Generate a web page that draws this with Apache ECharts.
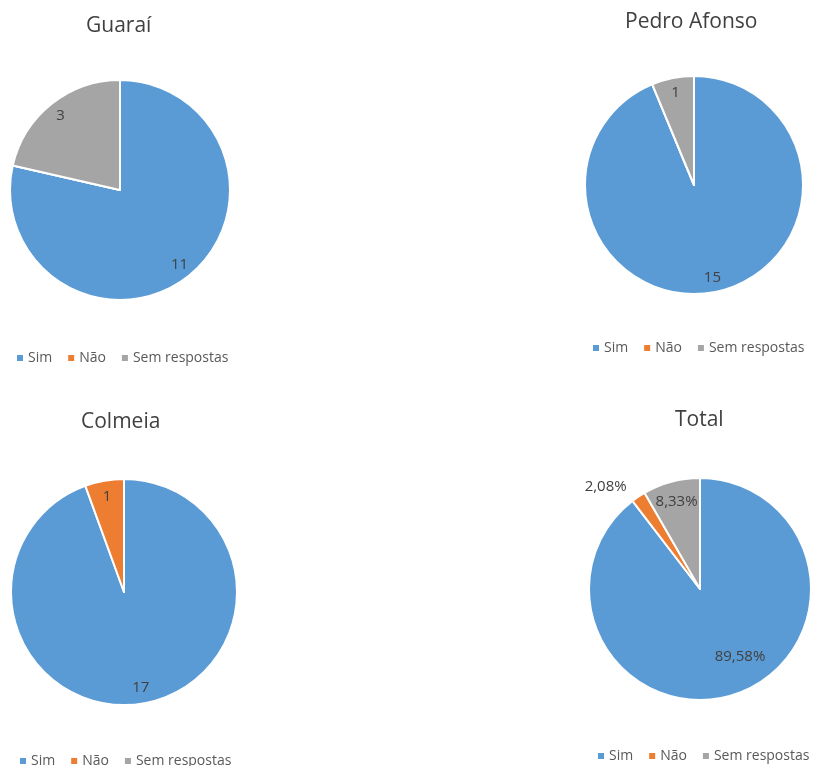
<!DOCTYPE html>
<html>
<head>
<meta charset="utf-8">
<script src="https://cdn.jsdelivr.net/npm/echarts@6/dist/echarts.min.js"></script>
<style>
  html, body { margin: 0; padding: 0; background: #ffffff; }
  #chart { width: 814px; height: 766px; }
</style>
</head>
<body>
<div id="chart"></div>
<script>
// Categories and answer counts per municipality
const categories = ['Sim', 'Não', 'Sem respostas'];
const guarai = [11, 0, 3];
const pedroAfonso = [15, 0, 1];
const colmeia = [17, 1, 0];
const total = [43, 1, 4];

const colors = ['#5B9BD5', '#ED7D31', '#A5A5A5'];
const FONT = '"Open Sans", "Noto Sans", sans-serif';

const chart = echarts.init(document.getElementById('chart'), null, { renderer: 'canvas' });

function toData(values) {
  return categories.map((name, i) => ({ name: name, value: values[i] }));
}

// Filled slices with a thin white separator
function slices(values, center, r) {
  return {
    type: 'pie',
    center: center,
    radius: [0, r],
    startAngle: 90,
    clockwise: true,
    animation: false,
    silent: true,
    itemStyle: { borderColor: '#ffffff', borderWidth: 2 },
    label: { show: false },
    labelLine: { show: false },
    data: toData(values)
  };
}

// Transparent ring over the slices; its inside labels sit midway across the ring
function labelRing(values, center, r, ringInner, formatter, itemOverrides) {
  const data = toData(values).map((d, i) =>
    Object.assign(d, (itemOverrides && itemOverrides[i]) || {}));
  return {
    type: 'pie',
    center: center,
    radius: [ringInner, r],
    startAngle: 90,
    clockwise: true,
    animation: false,
    silent: true,
    legendHoverLink: false,
    itemStyle: { color: 'rgba(0,0,0,0)', borderWidth: 0 },
    label: {
      show: true,
      position: 'inside',
      color: '#404040',
      fontSize: 15,
      fontFamily: FONT,
      formatter: formatter
    },
    labelLine: { show: false, length: 12, length2: 0 },
    data: data
  };
}

const countLabel = p => (p.value === 0 ? '' : String(p.value));
function percentLabel(values) {
  const sum = values.reduce((a, b) => a + b, 0);
  return p => (p.value === 0 ? '' : (p.value / sum * 100).toFixed(2).replace('.', ',') + '%');
}
const hidden = { label: { show: false } };

function legend(left, top) {
  return {
    left: left,
    top: top,
    width: 400,
    orient: 'horizontal',
    icon: 'rect',
    itemWidth: 8,
    itemHeight: 8,
    itemGap: 14,
    selectedMode: false,
    textStyle: { color: '#595959', fontSize: 14, fontFamily: FONT, padding: [0, 0, 0, -1] },
    data: categories
  };
}

function title(text, left, top) {
  return {
    text: text,
    left: left,
    top: top,
    padding: 0,
    textStyle: { color: '#404040', fontSize: 21, fontWeight: 'normal', fontFamily: FONT }
  };
}

const totalPct = percentLabel(total);

const series = [
  slices(guarai, [120, 190], 110),
  labelRing(guarai, [120, 190], 110, 75, countLabel),
  slices(pedroAfonso, [694, 185], 109),
  labelRing(pedroAfonso, [694, 185], 109, 74, countLabel),
  slices(colmeia, [124, 592], 113),
  labelRing(colmeia, [124, 592], 113, 75, countLabel),
  slices(total, [700, 589], 111),
  labelRing(total, [700, 589], 111, 64, totalPct,
    [hidden, { label: { position: 'outside' } }, null]),
  labelRing(total, [700, 589], 111, 26, totalPct,
    [{ label: { padding: [0, 0, 0, 34] } }, hidden, hidden])
];

chart.setOption({
  backgroundColor: '#ffffff',
  color: colors,
  animation: false,
  title: [
    title('Guaraí', 86, 16),
    title('Pedro Afonso', 625, 12),
    title('Colmeia', 81, 412),
    title('Total', 675, 410)
  ],
  legend: [
    legend(10, 346),
    legend(586, 336),
    legend(13, 749),
    legend(591, 744)
  ],
  series: series
});
</script>
</body>
</html>
